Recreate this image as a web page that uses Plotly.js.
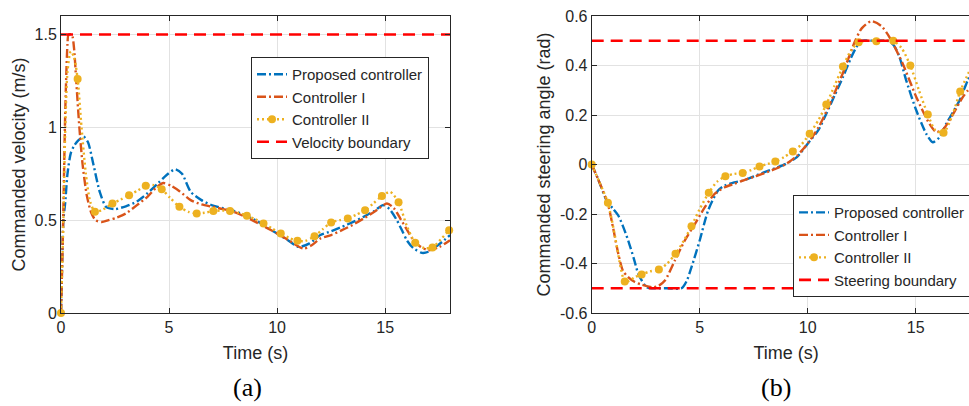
<!DOCTYPE html>
<html>
<head>
<meta charset="utf-8">
<script src="https://cdn.plot.ly/plotly-3.0.1.min.js"></script>
<style>
html,body{margin:0;padding:0;overflow:hidden;background:#fff;}
#chart{width:990px;height:406px;}
</style>
</head>
<body>
<div id="chart"></div>
<script>
// ---------- (a) Commanded velocity ----------
const velPropT = [0, 0.05, 0.11, 0.2, 0.3, 0.45, 0.6, 0.8, 1.05, 1.25, 1.5, 1.8, 2.1, 2.5, 3.0, 3.5, 4.0, 4.5, 4.9, 5.28, 5.6, 6.0, 6.5, 7.0, 7.5, 8.0, 8.5, 9.0, 9.5, 10.0, 10.5, 11.0, 11.5, 12.0, 12.5, 13.0, 13.5, 14.0, 14.5, 14.9, 15.2, 15.54, 15.8, 16.0, 16.3, 16.7, 17.0, 17.5, 18.0];
const velProp  = [0, 0.25, 0.5, 0.6, 0.75, 0.86, 0.9, 0.93, 0.95, 0.92, 0.8, 0.65, 0.57, 0.56, 0.575, 0.6, 0.645, 0.70, 0.745, 0.774, 0.75, 0.653, 0.608, 0.58, 0.565, 0.55, 0.527, 0.5, 0.464, 0.428, 0.392, 0.356, 0.375, 0.42, 0.44, 0.464, 0.49, 0.518, 0.55, 0.581, 0.56, 0.5, 0.44, 0.392, 0.35, 0.324, 0.33, 0.37, 0.42];

const velC1T = [0, 0.1, 0.2, 0.3, 0.35, 0.5, 0.6, 0.7, 0.85, 1.0, 1.2, 1.4, 1.6, 1.88, 2.2, 2.6, 3.0, 3.5, 4.0, 4.4, 4.74, 5.1, 5.5, 6.0, 6.5, 7.0, 7.5, 8.0, 8.5, 9.0, 9.5, 10.0, 10.5, 11.22, 11.6, 12.0, 12.5, 13.0, 13.5, 14.0, 14.5, 15.08, 15.4, 15.7, 16.0, 16.31, 16.6, 17.0, 17.5, 18.0];
const velC1  = [0, 0.5, 1.1, 1.45, 1.5, 1.5, 1.43, 1.26, 1.0, 0.8, 0.63, 0.54, 0.5, 0.49, 0.5, 0.515, 0.536, 0.58, 0.626, 0.675, 0.70, 0.685, 0.655, 0.608, 0.585, 0.572, 0.56, 0.545, 0.52, 0.491, 0.46, 0.428, 0.395, 0.347, 0.365, 0.401, 0.42, 0.446, 0.475, 0.509, 0.545, 0.59, 0.565, 0.509, 0.45, 0.392, 0.36, 0.338, 0.355, 0.392];

const velC2T = [0, 0.1, 0.2, 0.3, 0.45, 0.6, 0.77, 0.95, 1.15, 1.35, 1.57, 1.9, 2.38, 2.75, 3.15, 3.55, 3.92, 4.25, 4.66, 5.05, 5.48, 5.9, 6.28, 6.65, 7.05, 7.45, 7.82, 8.2, 8.6, 9.0, 9.37, 9.77, 10.17, 10.55, 10.94, 11.3, 11.73, 12.1, 12.5, 12.9, 13.27, 13.67, 14.07, 14.45, 14.85, 15.23, 15.62, 16.0, 16.39, 16.8, 17.19, 17.6, 17.96, 18.0];
const velC2  = [0, 0.45, 1.0, 1.3, 1.41, 1.38, 1.26, 1.0, 0.75, 0.6, 0.545, 0.555, 0.59, 0.61, 0.635, 0.66, 0.685, 0.69, 0.667, 0.62, 0.572, 0.545, 0.536, 0.54, 0.549, 0.552, 0.55, 0.54, 0.524, 0.505, 0.482, 0.455, 0.428, 0.405, 0.389, 0.388, 0.414, 0.45, 0.488, 0.5, 0.509, 0.53, 0.554, 0.59, 0.63, 0.653, 0.596, 0.47, 0.378, 0.35, 0.353, 0.4, 0.446, 0.45];
const velC2MarkT = [0, 0.77, 1.57, 2.38, 3.15, 3.92, 4.66, 5.48, 6.28, 7.05, 7.82, 8.6, 9.37, 10.17, 10.94, 11.73, 12.5, 13.27, 14.07, 14.85, 15.62, 16.39, 17.19, 17.96];
const velC2Mark  = [0, 1.26, 0.545, 0.59, 0.635, 0.685, 0.667, 0.572, 0.536, 0.549, 0.55, 0.524, 0.482, 0.428, 0.389, 0.414, 0.488, 0.509, 0.554, 0.63, 0.596, 0.378, 0.353, 0.446];

const velBoundT = [0, 18];
const velBound  = [1.5, 1.5];

// ---------- (b) Commanded steering angle ----------
const steerPropT = [0, 0.3, 0.69, 1.0, 1.23, 1.45, 1.69, 1.95, 2.16, 2.54, 2.8, 3.5, 4.16, 4.4, 4.62, 5.0, 5.39, 5.85, 6.16, 6.6, 7.0, 7.5, 8.0, 8.5, 9.0, 9.5, 10.0, 10.5, 10.86, 11.25, 11.63, 12.0, 12.25, 12.48, 13.0, 13.71, 14.0, 14.25, 14.56, 15.03, 15.49, 15.79, 16.1, 16.41, 17.03, 17.41, 17.7];
const steerProp  = [0, -0.06, -0.145, -0.18, -0.206, -0.25, -0.307, -0.38, -0.442, -0.496, -0.5, -0.5, -0.5, -0.47, -0.415, -0.307, -0.186, -0.105, -0.085, -0.072, -0.065, -0.048, -0.031, -0.015, 0.003, 0.03, 0.084, 0.14, 0.205, 0.28, 0.353, 0.43, 0.474, 0.5, 0.5, 0.5, 0.48, 0.434, 0.34, 0.218, 0.124, 0.09, 0.11, 0.164, 0.259, 0.34, 0.39];

const steerC1T = [0, 0.3, 0.75, 1.0, 1.23, 1.45, 1.69, 2.0, 2.31, 2.85, 3.1, 3.39, 3.85, 4.31, 4.78, 5.24, 5.7, 6.16, 6.6, 7.0, 7.5, 8.0, 8.5, 9.0, 9.5, 10.0, 10.5, 11.0, 11.63, 12.2, 12.5, 12.94, 13.4, 13.79, 14.4, 15.03, 15.64, 15.95, 16.25, 16.56, 17.18, 17.7];
const steerC1  = [0, -0.06, -0.16, -0.26, -0.36, -0.43, -0.455, -0.475, -0.485, -0.496, -0.49, -0.469, -0.388, -0.307, -0.24, -0.172, -0.118, -0.092, -0.078, -0.065, -0.05, -0.035, -0.018, 0.002, 0.035, 0.085, 0.15, 0.24, 0.37, 0.5, 0.55, 0.579, 0.56, 0.514, 0.407, 0.272, 0.164, 0.131, 0.14, 0.178, 0.272, 0.33];

const steerC2T = [0, 0.35, 0.75, 1.1, 1.35, 1.53, 1.75, 2.0, 2.31, 2.7, 3.11, 3.5, 3.88, 4.25, 4.62, 5.0, 5.42, 5.8, 6.19, 6.6, 6.99, 7.4, 7.77, 8.15, 8.5, 8.9, 9.31, 9.7, 10.09, 10.5, 10.86, 11.25, 11.63, 12.0, 12.36, 12.8, 13.18, 13.6, 13.96, 14.35, 14.75, 15.15, 15.56, 15.9, 16.29, 16.7, 17.06, 17.5];
const steerC2  = [0, -0.07, -0.155, -0.3, -0.42, -0.473, -0.47, -0.455, -0.444, -0.432, -0.424, -0.4, -0.361, -0.31, -0.249, -0.18, -0.114, -0.07, -0.047, -0.038, -0.034, -0.022, -0.008, 0.002, 0.012, 0.03, 0.053, 0.08, 0.124, 0.18, 0.242, 0.32, 0.396, 0.46, 0.494, 0.5, 0.5, 0.5, 0.5, 0.47, 0.4, 0.3, 0.202, 0.14, 0.128, 0.2, 0.295, 0.38];
const steerC2MarkT = [0, 0.75, 1.53, 2.31, 3.11, 3.88, 4.62, 5.42, 6.19, 6.99, 7.77, 8.5, 9.31, 10.09, 10.86, 11.63, 12.36, 13.18, 13.96, 14.75, 15.56, 16.29, 17.06];
const steerC2Mark  = [0, -0.155, -0.473, -0.444, -0.424, -0.361, -0.249, -0.114, -0.047, -0.034, -0.008, 0.012, 0.053, 0.124, 0.242, 0.396, 0.494, 0.498, 0.5, 0.4, 0.202, 0.128, 0.295];

const steerBoundT = [0, 18, null, 0, 18];
const steerBound  = [0.5, 0.5, null, -0.5, -0.5];

// ---------- labels ----------
const seriesNames = ['Proposed controller', 'Controller I', 'Controller II'];
const velBoundName = 'Velocity boundary';
const steerBoundName = 'Steering boundary';
const xTickVals = [0, 5, 10, 15];
const xTickText = ['0', '5', '10', '15'];
const velTickVals = [0, 0.5, 1, 1.5];
const velTickText = ['0', '0.5', '1', '1.5'];
const steerTickVals = [-0.6, -0.4, -0.2, 0, 0.2, 0.4, 0.6];
const steerTickText = ['-0.6', '-0.4', '-0.2', '0', '0.2', '0.4', '0.6'];
const panelLabels = ['(a)', '(b)'];

// ---------- styles ----------
const BLUE = '#0072BD', ORANGE = '#D95319', YELLOW = '#EDB120', RED = '#FF0000';
const dashDot = '9px,3px,2px,3px';
const dotted = '2px,3px';
const dashed = '12px,7px';
const LW = 2.4;
const spl = {shape: 'spline', smoothing: 0.7};

function panel(xa, ya, legend, d) {
  return [
    {x: d.pT, y: d.p, xaxis: xa, yaxis: ya, legend: legend, mode: 'lines', name: seriesNames[0],
     line: Object.assign({color: BLUE, width: LW, dash: dashDot}, spl)},
    {x: d.c1T, y: d.c1, xaxis: xa, yaxis: ya, legend: legend, mode: 'lines', name: seriesNames[1],
     line: Object.assign({color: ORANGE, width: LW, dash: dashDot}, spl)},
    {x: d.c2T, y: d.c2, xaxis: xa, yaxis: ya, legend: legend, mode: 'lines', name: seriesNames[2], showlegend: false,
     line: Object.assign({color: YELLOW, width: LW, dash: dotted}, spl)},
    {x: d.mT, y: d.m, xaxis: xa, yaxis: ya, legend: legend, mode: 'markers', name: seriesNames[2], showlegend: false,
     cliponaxis: false, marker: {color: YELLOW, size: 8, symbol: 'circle'}},
    {x: [null], y: [null], xaxis: xa, yaxis: ya, legend: legend, mode: 'lines+markers', name: seriesNames[2],
     line: {color: YELLOW, width: LW, dash: dotted}, marker: {color: YELLOW, size: 8}},
    {x: d.bT, y: d.b, xaxis: xa, yaxis: ya, legend: legend, mode: 'lines', name: d.bName,
     line: {color: RED, width: 2.6, dash: dashed}}
  ];
}

const data = [].concat(
  panel('x', 'y', 'legend', {pT: velPropT, p: velProp, c1T: velC1T, c1: velC1, c2T: velC2T, c2: velC2,
        mT: velC2MarkT, m: velC2Mark, bT: velBoundT, b: velBound, bName: velBoundName}),
  panel('x2', 'y2', 'legend2', {pT: steerPropT, p: steerProp, c1T: steerC1T, c1: steerC1, c2T: steerC2T, c2: steerC2,
        mT: steerC2MarkT, m: steerC2Mark, bT: steerBoundT, b: steerBound, bName: steerBoundName})
);

const W = 990;
const FONT = 'Liberation Sans, Arial, Helvetica, sans-serif';
const TXT = '#262626';
function xAx(domain, anchor) {
  return {domain: domain, anchor: anchor, range: [0, 18], tickmode: 'array', tickvals: xTickVals, ticktext: xTickText,
    ticks: 'inside', ticklen: 5, tickcolor: TXT, mirror: 'ticks', showline: true, linecolor: TXT, linewidth: 1,
    showgrid: true, gridcolor: '#e2e2e2', zeroline: false, tickfont: {size: 16, color: TXT, family: FONT},
    title: {text: 'Time (s)', font: {size: 18, color: TXT, family: FONT}, standoff: 11}};
}
function yAx(anchor, range, vals, text, title) {
  return {domain: [0, 1], anchor: anchor, range: range, tickmode: 'array', tickvals: vals, ticktext: text,
    ticks: 'inside', ticklen: 5, tickcolor: TXT, mirror: 'ticks', showline: true, linecolor: TXT, linewidth: 1,
    showgrid: true, gridcolor: '#e2e2e2', zeroline: false, tickfont: {size: 16, color: TXT, family: FONT},
    title: {text: title, font: {size: 18, color: TXT, family: FONT}, standoff: 4}};
}
const legBase = {xref: 'paper', yref: 'paper', xanchor: 'left', yanchor: 'top', bgcolor: '#ffffff',
  bordercolor: TXT, borderwidth: 1, font: {size: 15, color: TXT, family: FONT}, tracegroupgap: 0, itemwidth: 30};

const layout = {
  width: W, height: 406,
  margin: {l: 0, r: 0, t: 16, b: 93, pad: 0},
  paper_bgcolor: '#ffffff', plot_bgcolor: '#ffffff',
  font: {family: FONT, color: TXT},
  showlegend: true,
  xaxis: xAx([61 / W, 450 / W], 'y'),
  yaxis: yAx('x', [0, 1.6], velTickVals, velTickText, 'Commanded velocity (m/s)'),
  xaxis2: xAx([591.7 / W, 980.5 / W], 'y2'),
  yaxis2: yAx('x2', [-0.6, 0.6], steerTickVals, steerTickText, 'Commanded steering angle (rad)'),
  legend: Object.assign({x: 251 / W, y: 0.862}, legBase),
  legend2: Object.assign({x: 793 / W, y: 0.397}, legBase),
  annotations: [
    {text: panelLabels[0], xref: 'paper', yref: 'paper', x: 247 / W, y: (313 - 387) / 297, xanchor: 'center', yanchor: 'middle',
     showarrow: false, borderpad: 0, font: {family: 'Liberation Serif, Times New Roman, serif', size: 26, color: '#000'}},
    {text: panelLabels[1], xref: 'paper', yref: 'paper', x: 776 / W, y: (313 - 387) / 297, xanchor: 'center', yanchor: 'middle',
     showarrow: false, borderpad: 0, font: {family: 'Liberation Serif, Times New Roman, serif', size: 26, color: '#000'}}
  ]
};

Plotly.newPlot('chart', data, layout, {displayModeBar: false, staticPlot: true});
</script>
</body>
</html>
